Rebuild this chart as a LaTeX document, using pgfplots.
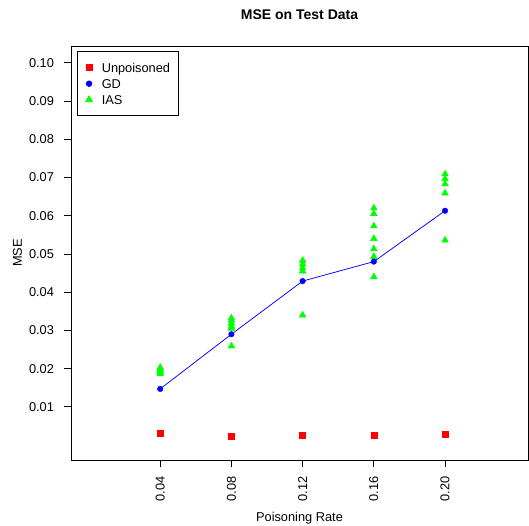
\documentclass[border=0pt]{standalone}
\usepackage{pgfplots}
\pgfplotsset{compat=1.18}
\usepackage{fontspec}
\setmainfont{Liberation Sans}
\definecolor{rred}{HTML}{FF0000}
\definecolor{rblue}{HTML}{0000FF}
\definecolor{rgreen}{HTML}{00FF00}
\begin{document}
\begin{tikzpicture}
\path[use as bounding box] (-71pt,-66pt) rectangle (458pt,460pt);
\begin{axis}[
  at={(0pt,0pt)}, anchor=south west,
  scale only axis, width=457pt, height=414pt,
  xmin=-0.0101, xmax=0.2466, ymin=-0.0039, ymax=0.1044,
  axis line style={line width=0.75pt},
  xtick={0.04,0.08,0.12,0.16,0.20},
  ytick={0.01,0.02,0.03,0.04,0.05,0.06,0.07,0.08,0.09,0.10},
  tick align=outside, tick pos=left,
  major tick length=7pt,
  tick style={black, line width=0.75pt},
  /pgf/number format/assume math mode=true,
  /pgf/number format/fixed, /pgf/number format/fixed zerofill, /pgf/number format/precision=2,
  ticklabel style={font=\fontsize{12.8}{15}\selectfont},
  xticklabel style={rotate=90, anchor=east},
  xticklabel shift=6pt,
  yticklabel shift=6.5pt,
  scaled ticks=false,
  title={\bfseries MSE on Test Data},
  title style={font=\fontsize{14}{16}\selectfont, at={(axis description cs:0.5,1)}, anchor=center, yshift=25.5pt},
  xlabel={Poisoning Rate}, ylabel={MSE},
  label style={font=\fontsize{12.8}{15}\selectfont},
  xlabel style={at={(axis description cs:0.5,0)}, anchor=base, yshift=-61pt},
  ylabel style={at={(axis description cs:0,0.5)}, anchor=center, yshift=53.5pt},
  legend style={at={(axis description cs:0.0129,0.9874)}, anchor=north west,
    font=\fontsize{12.8}{15}\selectfont, draw=black, line width=0.75pt,
    inner xsep=7.8pt, inner ysep=11.5pt, row sep=6.8pt,
    nodes={inner sep=0pt, text height=9.2pt, text depth=0pt},
    /tikz/every odd column/.append style={column sep=8.7pt}},
  legend cell align=left,
  legend image code/.code={\draw[#1] plot coordinates {(0pt,0pt)}; \path[draw=none] (-4pt,-3pt) rectangle (4pt,3pt);},
]
\addlegendimage{only marks, mark=square*, mark size=3pt, color=rred}
\addlegendentry{Unpoisoned}
\addlegendimage{only marks, mark=*, mark size=2.8pt, color=rblue}
\addlegendentry{GD}
\addlegendimage{only marks, mark=triangle*, mark size=3.9pt, color=rgreen}
\addlegendentry{IAS}
\addplot[forget plot, only marks, mark=square*, mark size=3pt, color=rred] coordinates {
(0.04,0.0032) (0.08,0.0024) (0.12,0.0026) (0.16,0.0026) (0.20,0.0029)};
\addplot[forget plot, only marks, mark=triangle*, mark size=3.9pt, color=rgreen] coordinates {
(0.04,0.0186) (0.04,0.0190) (0.04,0.0194) (0.04,0.0198) (0.04,0.0203)
(0.08,0.0259) (0.08,0.0305) (0.08,0.0310) (0.08,0.0318) (0.08,0.0326) (0.08,0.0332)
(0.12,0.0340) (0.12,0.0455) (0.12,0.0463) (0.12,0.0473) (0.12,0.0483)
(0.16,0.0440) (0.16,0.0493) (0.16,0.0513) (0.16,0.0540) (0.16,0.0573) (0.16,0.0605) (0.16,0.0620)
(0.20,0.0536) (0.20,0.0659) (0.20,0.0683) (0.20,0.0696) (0.20,0.0709)};
\addplot[forget plot, color=rblue, line width=0.75pt] coordinates {
(0.04,0.0147) (0.08,0.0290) (0.12,0.0429) (0.16,0.0480) (0.20,0.0613)};
\addplot[forget plot, only marks, mark=*, mark size=2.8pt, color=rblue] coordinates {
(0.04,0.0147) (0.08,0.0290) (0.12,0.0429) (0.16,0.0480) (0.20,0.0613)};
\end{axis}
\end{tikzpicture}
\end{document}
